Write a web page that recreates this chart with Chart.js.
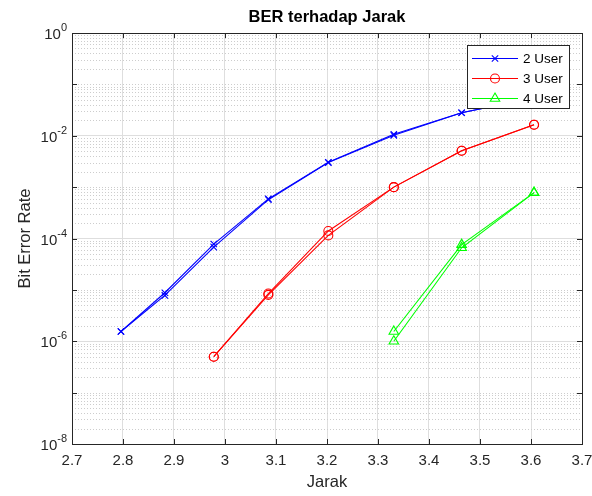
<!DOCTYPE html>
<html>
<head>
<meta charset="utf-8">
<script src="https://cdn.jsdelivr.net/npm/chart.js@4.4.0/dist/chart.umd.min.js"></script>
<style>
  html, body { margin: 0; padding: 0; background: #fff; }
</style>
</head>
<body>
<canvas id="berChart" width="592" height="496"></canvas>
<script>
// jarak (x) shared by every run, BER (two runs per user count)
var jarak = [2.796, 2.882, 2.978, 3.085, 3.2026, 3.331, 3.464, 3.606];

var ber2UserA = [1.55e-6, 8.8e-6, 7.8e-5, 5.9e-4, 3.05e-3, 1.07e-2, 2.8e-2, 5.5e-2];
var ber2UserB = [1.55e-6, 7.8e-6, 6.8e-5, 5.7e-4, 3.0e-3, 1.02e-2, 2.8e-2, 5.5e-2];
var ber3UserA = [null, null, 5.0e-7, 8.5e-6, 1.4e-4, 1.0e-3, 5.1e-3, 1.64e-2];
var ber3UserB = [null, null, 5.0e-7, 8.0e-6, 1.15e-4, 1.0e-3, 5.1e-3, 1.64e-2];
var ber4UserA = [null, null, null, null, null, 1.0e-6, 6.6e-5, 7.8e-4];
var ber4UserB = [null, null, null, null, null, 1.55e-6, 7.6e-5, 7.8e-4];

var seriesLabels = ["2 User", "3 User", "4 User"];
var seriesColors = ["#0000ff", "#ff0000", "#00ff00"];
var seriesMarkers = ["crossRot", "circle", "triangle"];

var xTicks = [2.7, 2.8, 2.9, 3.0, 3.1, 3.2, 3.3, 3.4, 3.5, 3.6, 3.7];
var yTicks = [1, 1e-2, 1e-4, 1e-6, 1e-8];
var yTickExp = ["0", "-2", "-4", "-6", "-8"];

var FONT = "'Liberation Sans', Arial, Helvetica, sans-serif";
var INK = "#262626";

function toPoints(ys) {
    var pts = [];
    for (var i = 0; i < jarak.length; i++) {
        if (ys[i] != null) pts.push({ x: jarak[i], y: ys[i] });
    }
    return pts;
}

function markerSize(idx) {
    return seriesMarkers[idx] == "triangle" ? 5.5 : 4.5;
}

function makeSet(idx, ys) {
    return {
        label: seriesLabels[idx],
        data: toPoints(ys),
        showLine: true,
        borderColor: seriesColors[idx],
        backgroundColor: "rgba(0,0,0,0)",
        borderWidth: 1.1,
        pointStyle: seriesMarkers[idx],
        pointRadius: markerSize(idx),
        pointBorderWidth: 1.1,
        pointBorderColor: seriesColors[idx],
        pointBackgroundColor: "rgba(0,0,0,0)",
        tension: 0
    };
}

// matlab-ish decorations: minor grid, box, ticks, legend, labels
var matlabLook = {
    id: "matlabLook",
    beforeDatasetsDraw: function (chart) {
        var ctx = chart.ctx, a = chart.chartArea, ys = chart.scales.y;
        ctx.save();
        ctx.strokeStyle = "#cdcdcd";
        ctx.lineWidth = 1;
        ctx.setLineDash([1, 2]);
        for (var n = -8; n < 0; n++) {
            for (var k = 1; k <= 9; k++) {
                if (k == 1 && n % 2 == 0) continue;
                var py = Math.round(ys.getPixelForValue(k * Math.pow(10, n))) + 0.5;
                ctx.beginPath();
                ctx.moveTo(a.left, py);
                ctx.lineTo(a.right, py);
                ctx.stroke();
            }
        }
        ctx.restore();
    },
    afterDatasetsDraw: function (chart) {
        var ctx = chart.ctx, a = chart.chartArea;
        var xs = chart.scales.x, ys = chart.scales.y;
        ctx.save();

        // box + ticks
        ctx.strokeStyle = INK;
        ctx.lineWidth = 1;
        ctx.strokeRect(Math.round(a.left) + 0.5, Math.round(a.top) + 0.5,
            Math.round(a.right - a.left), Math.round(a.bottom - a.top));
        ctx.beginPath();
        xTicks.forEach(function (v) {
            var px = Math.round(xs.getPixelForValue(v)) + 0.5;
            ctx.moveTo(px, a.bottom); ctx.lineTo(px, a.bottom - 5);
            ctx.moveTo(px, a.top); ctx.lineTo(px, a.top + 5);
        });
        for (var n = -8; n <= 0; n++) {
            var py = Math.round(ys.getPixelForValue(Math.pow(10, n))) + 0.5;
            ctx.moveTo(a.left, py); ctx.lineTo(a.left + 5, py);
            ctx.moveTo(a.right, py); ctx.lineTo(a.right - 5, py);
        }
        ctx.stroke();

        // legend box
        var lx = 467, ly = 45, lw = 102, lh = 63;
        ctx.fillStyle = "#fff";
        ctx.fillRect(lx, ly, lw, lh);
        ctx.strokeRect(lx + 0.5, ly + 0.5, lw, lh);
        for (var i = 0; i < 3; i++) {
            var ry = 58 + i * 20;
            ctx.strokeStyle = seriesColors[i];
            ctx.lineWidth = 1.1;
            ctx.beginPath();
            ctx.moveTo(472, ry + 0.5); ctx.lineTo(518, ry + 0.5);
            ctx.stroke();
            ctx.fillStyle = "rgba(0,0,0,0)";
            Chart.helpers.drawPoint(ctx, {
                pointStyle: seriesMarkers[i],
                radius: markerSize(i),
                borderWidth: 1.1
            }, 495, ry + 0.5);
            ctx.fillStyle = "#000";
            ctx.font = "13.5px " + FONT;
            ctx.textBaseline = "middle";
            ctx.textAlign = "left";
            ctx.fillText(seriesLabels[i], 523, ry + 1);
        }

        // y tick labels with superscript
        ctx.fillStyle = INK;
        ctx.textAlign = "left";
        ctx.textBaseline = "middle";
        yTicks.forEach(function (v, j) {
            var py = ys.getPixelForValue(v);
            ctx.font = "11px " + FONT;
            var w2 = ctx.measureText(yTickExp[j]).width;
            ctx.font = "15px " + FONT;
            var w1 = ctx.measureText("10").width;
            var right = 67;
            ctx.fillText("10", right - w2 - w1, py + 2);
            ctx.font = "11px " + FONT;
            ctx.fillText(yTickExp[j], right - w2, py - 5);
        });

        // y axis title
        ctx.save();
        ctx.translate(25, (a.top + a.bottom) / 2);
        ctx.rotate(-Math.PI / 2);
        ctx.textAlign = "center";
        ctx.font = "16.5px " + FONT;
        ctx.fillText("Bit Error Rate", 0, 0);
        ctx.restore();

        // title
        ctx.fillStyle = "#000";
        ctx.textAlign = "center";
        ctx.font = "bold 16.5px " + FONT;
        ctx.fillText("BER terhadap Jarak", (a.left + a.right) / 2, 17);

        ctx.restore();
    }
};

var config = {
    type: "scatter",
    data: {
        datasets: [
            makeSet(0, ber2UserA), makeSet(0, ber2UserB),
            makeSet(1, ber3UserA), makeSet(1, ber3UserB),
            makeSet(2, ber4UserA), makeSet(2, ber4UserB)
        ]
    },
    options: {
        responsive: false,
        animation: false,
        devicePixelRatio: 1,
        layout: { padding: { top: 33, right: 10, left: 0, bottom: 0 } },
        plugins: {
            legend: { display: false },
            title: { display: false },
            tooltip: { enabled: false }
        },
        scales: {
            x: {
                type: "linear",
                min: 2.7,
                max: 3.7,
                afterBuildTicks: function (scale) {
                    scale.ticks = xTicks.map(function (v) { return { value: v }; });
                },
                afterFit: function (scale) {
                    scale.height = 52;
                    scale.paddingLeft = 0;
                    scale.paddingRight = 0;
                },
                ticks: {
                    autoSkip: false,
                    maxRotation: 0,
                    padding: 8,
                    color: INK,
                    font: { family: FONT, size: 15 },
                    callback: function (v) { return String(Math.round(v * 10) / 10); }
                },
                grid: { color: "#dedede", drawTicks: false },
                border: { display: false },
                title: {
                    display: true,
                    text: "Jarak",
                    color: INK,
                    font: { family: FONT, size: 16.5 },
                    padding: { top: 4 }
                }
            },
            y: {
                type: "logarithmic",
                min: 1e-8,
                max: 1,
                afterBuildTicks: function (scale) {
                    scale.ticks = yTicks.map(function (v) { return { value: v }; });
                },
                afterFit: function (scale) { scale.width = 72; },
                ticks: { display: false },
                grid: { color: "#dedede", drawTicks: false },
                border: { display: false }
            }
        }
    },
    plugins: [matlabLook]
};

var berChart = new Chart(document.getElementById("berChart"), config);
</script>
</body>
</html>
